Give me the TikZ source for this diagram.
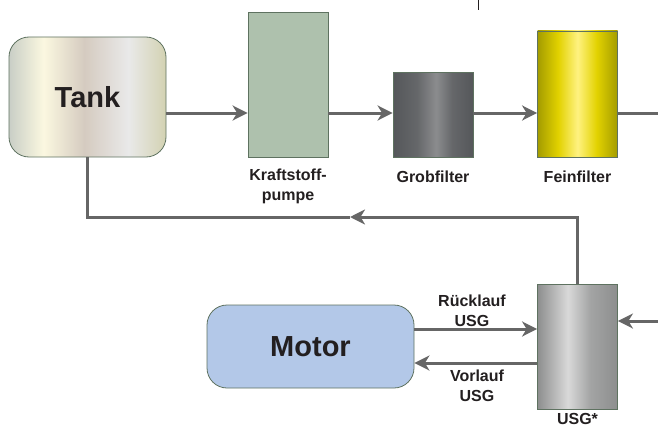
\documentclass[tikz,border=0pt]{standalone}
\usepackage{fontspec}
\setmainfont{Liberation Sans}
\usetikzlibrary{arrows.meta}

\definecolor{linegray}{HTML}{666666}
\definecolor{edgegray}{HTML}{5E7260}
\definecolor{textblack}{HTML}{231F20}
\definecolor{pumpgreen}{HTML}{AEC1AD}
\definecolor{motorblue}{HTML}{B3C8E8}
\definecolor{tankA}{HTML}{C9CEC6}
\definecolor{tankB}{HTML}{FBF8E0}
\definecolor{tankC}{HTML}{D5CBC0}
\definecolor{tankD}{HTML}{E9E9E9}
\definecolor{tankE}{HTML}{D3D2B2}
\definecolor{grobA}{HTML}{55575A}
\definecolor{grobB}{HTML}{8B8C8E}
\definecolor{feinA}{HTML}{A39C00}
\definecolor{feinB}{HTML}{E2D200}
\definecolor{feinC}{HTML}{FFF280}
\definecolor{usgA}{HTML}{8D8E8E}
\definecolor{usgB}{HTML}{D9D9D9}
\definecolor{usgC}{HTML}{A3A4A4}

\pgfdeclarehorizontalshading{tankshade}{100bp}{color(0bp)=(tankA); color(25bp)=(tankA); color(36bp)=(tankB); color(49bp)=(tankC); color(63bp)=(tankD); color(75bp)=(tankE); color(100bp)=(tankE)}
\pgfdeclarehorizontalshading{grobshade}{100bp}{color(0bp)=(grobA); color(25bp)=(grobA); color(40bp)=(grobA!70!grobB); color(52bp)=(grobB); color(62bp)=(grobA!70!grobB); color(75bp)=(grobA); color(100bp)=(grobA)}
\pgfdeclarehorizontalshading{feinshade}{100bp}{color(0bp)=(feinA); color(25bp)=(feinA); color(38bp)=(feinB); color(50bp)=(feinC); color(62bp)=(feinB); color(75bp)=(feinA); color(100bp)=(feinA)}
\pgfdeclarehorizontalshading{usgshade}{100bp}{color(0bp)=(usgA); color(25bp)=(usgA); color(44bp)=(usgB); color(58bp)=(usgC); color(75bp)=(usgA); color(100bp)=(usgA)}

\begin{document}
\begin{tikzpicture}[x=1pt,y=-1pt,
	box/.style={draw=edgegray, line width=0.8pt, inner sep=0pt},
	bigtext/.style={font=\fontsize{29}{34}\selectfont\bfseries, text=textblack},
	caption/.style={font=\fontsize{16}{20}\selectfont\bfseries, text=textblack, align=center},
	pipe/.style={draw=linegray, line width=3pt},
	flow/.style={pipe, -{Stealth[length=15pt,width=15pt,inset=4.5pt]}}]
	\useasboundingbox (0,0) rectangle (658,428);
	% Bauteile
	\node (Tank) at ( 87.5,  97)	[box, rounded corners=20pt, shade, shading=tankshade, minimum width=157pt, minimum height=120pt, bigtext]	{Tank};
	\node (Pumpe) at (288, 84.5)	[box, fill=pumpgreen, minimum width=80pt, minimum height=145pt]	{};
	\node (Grob) at (433, 114.5)	[box, shade, shading=grobshade, minimum width=80pt, minimum height=85pt]	{};
	\node (Fein) at (577.5, 94)	[box, shade, shading=feinshade, minimum width=80pt, minimum height=126pt]	{};
	\node (USG) at (577.5, 346.5)	[box, shade, shading=usgshade, minimum width=80pt, minimum height=125pt]	{};
	\node (Motor) at (310.5, 346.5)	[box, rounded corners=20pt, fill=motorblue, minimum width=207pt, minimum height=83pt, bigtext]	{Motor};
	% Beschriftungen
	\node (PumpeL) at (288, 186)	[caption]	{Kraftstoff-\\pumpe};
	\node (GrobL) at (433, 177)	[caption]	{Grobfilter};
	\node (FeinL) at (577.5, 177)	[caption]	{Feinfilter};
	\node (USGL) at (577.5, 419)	[caption, inner sep=1pt]	{USG*};
	\node (RueckL) at (472, 311)	[caption]	{Rücklauf\\USG};
	\node (VorL) at (477, 386)	[caption]	{Vorlauf\\USG};
	% Leitungen
	\coordinate (L) at (0, 113);
	\coordinate (Aus) at (658, 113);
	\coordinate (Ein) at (658, 321);
	\coordinate (R) at (0, 217);
	\coordinate (Rm) at (350, 217);
	\coordinate (Q1) at (0, 329);
	\coordinate (Q2) at (0, 363);
	\coordinate (S1) at (478, 0);
	\coordinate (S2) at (478, 10);
	\draw[flow] (Tank.east |- L) -- (Pumpe.west |- L);
	\draw[flow] (Pumpe.east |- L) -- (Grob.west |- L);
	\draw[flow] (Grob.east |- L) -- (Fein.west |- L);
	\draw[pipe] (Fein.east |- L) -- (Aus);
	\draw[flow] (USG.north) |- (Rm);
	\draw[pipe] (Rm) -| (Tank.south);
	\draw[flow] (Ein) -- (USG.east |- Ein);
	\draw[flow] (Motor.east |- Q1) -- (USG.west |- Q1);
	\draw[flow] (USG.west |- Q2) -- (Motor.east |- Q2);
	\draw[textblack, line width=0.6pt] (S1) -- (S2);
\end{tikzpicture}
\end{document}
